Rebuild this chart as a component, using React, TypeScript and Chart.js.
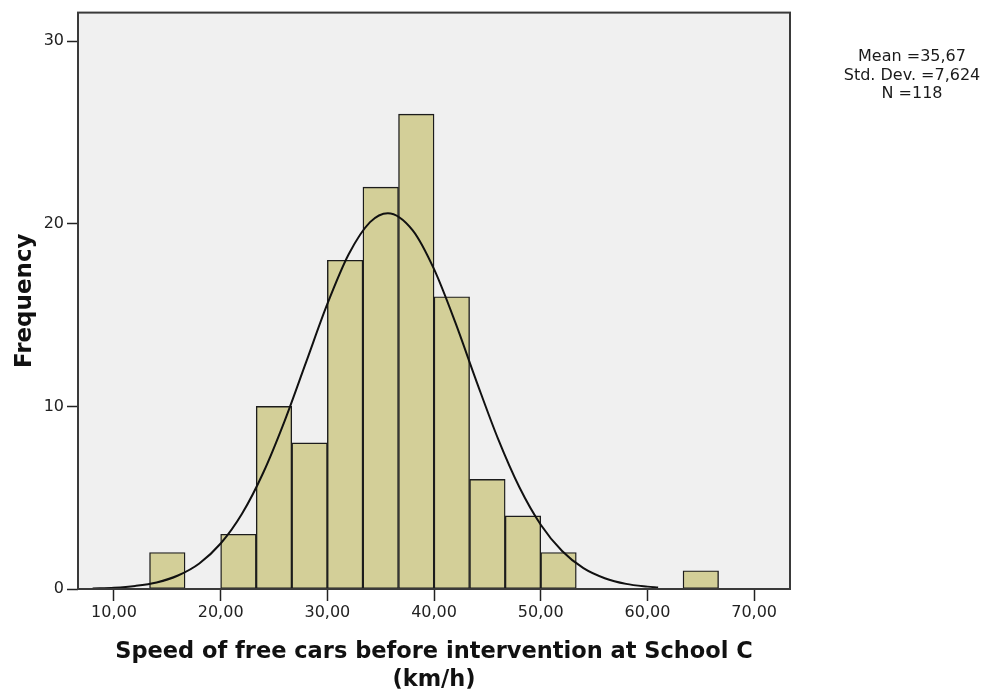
import React, { useEffect, useRef } from "react";
import { Chart, registerables } from "chart.js";

Chart.register(...registerables);

// Histogram bins (lower edge, upper edge) and counts
const binLower = [13.33, 20.0, 23.33, 26.67, 30.0, 33.33, 36.67, 40.0, 43.33, 46.67, 50.0, 63.33];
const binUpper = [16.67, 23.33, 26.67, 30.0, 33.33, 36.67, 40.0, 43.33, 46.67, 50.0, 53.33, 66.67];
const binCounts = [2, 3, 10, 8, 18, 22, 26, 16, 6, 4, 2, 1];

// Normal curve overlay
const curveX = [8, 10, 12, 14, 16, 18, 20, 22, 24, 26, 28, 30, 32, 34, 35.67, 38, 40, 42, 44, 46, 48, 50, 52, 54, 56, 58, 60, 61];
const curveY = [0.03, 0.07, 0.17, 0.36, 0.74, 1.4, 2.49, 4.12, 6.38, 9.21, 12.41, 15.61, 18.33, 20.09, 20.58, 19.64, 17.51, 14.58, 11.33, 8.22, 5.57, 3.52, 2.08, 1.14, 0.59, 0.28, 0.13, 0.08];

const xTicks = [10, 20, 30, 40, 50, 60, 70];
const yTicks = [0, 10, 20, 30];
const statsLines = ["Mean =35,67", "Std. Dev. =7,624", "N =118"];
const xTitle = ["Speed of free cars before intervention at School C", "(km/h)"];
const yTitle = "Frequency";

const FONT = "'DejaVu Sans', sans-serif";

export default function App() {
  const ref = useRef<HTMLCanvasElement | null>(null);

  useEffect(() => {
    document.body.style.margin = "0";
    const canvas = ref.current;
    if (!canvas) return;

    const bgPlugin = {
      id: "plotBg",
      beforeDraw(chart: any) {
        const { ctx, chartArea: a } = chart;
        ctx.save();
        ctx.fillStyle = "#ffffff";
        ctx.fillRect(0, 0, chart.width, chart.height);
        ctx.fillStyle = "#f0f0f0";
        ctx.fillRect(a.left, a.top, a.right - a.left, a.bottom - a.top);
        ctx.restore();
      },
      afterDraw(chart: any) {
        const { ctx, chartArea: a } = chart;
        ctx.save();
        ctx.strokeStyle = "#3a3a3a";
        ctx.lineWidth = 2;
        ctx.strokeRect(a.left, a.top, a.right - a.left, a.bottom - a.top);
        ctx.fillStyle = "#1a1a1a";
        ctx.font = "16px " + FONT;
        ctx.textAlign = "center";
        ctx.textBaseline = "middle";
        statsLines.forEach((t, i) => ctx.fillText(t, 912, 57 + i * 18.5));
        ctx.restore();
      },
    };

    const barData = binCounts.map((c, i) => ({ x: (binLower[i] + binUpper[i]) / 2, y: c }));
    const lineData = curveX.map((x, i) => ({ x, y: curveY[i] }));

    const chart = new Chart(canvas, {
      type: "bar",
      data: {
        datasets: [
          {
            type: "line",
            data: lineData,
            borderColor: "#111111",
            borderWidth: 2,
            pointRadius: 0,
            cubicInterpolationMode: "monotone",
            fill: false,
            order: 0,
          } as any,
          {
            type: "bar",
            data: barData,
            backgroundColor: "#d3cf98",
            borderColor: "#1c1c1c",
            borderWidth: 1.4,
            borderSkipped: false,
            categoryPercentage: 1,
            barPercentage: 1,
            order: 1,
          } as any,
        ],
      },
      options: {
        animation: false,
        responsive: false,
        maintainAspectRatio: false,
        layout: { padding: { top: 12, right: 205, left: 0, bottom: 0 } },
        plugins: { legend: { display: false }, tooltip: { enabled: false } },
        scales: {
          x: {
            type: "linear",
            offset: false,
            min: 6.63,
            max: 73.36,
            afterBuildTicks(scale: any) {
              scale.ticks = xTicks.map((v) => ({ value: v }));
            },
            afterFit(scale: any) {
              scale.height = 106;
            },
            border: { display: false },
            grid: {
              offset: false,
              drawOnChartArea: false,
              drawTicks: true,
              tickLength: 12,
              tickColor: "#222222",
              tickWidth: 1.5,
            },
            ticks: {
              padding: 2,
              color: "#222222",
              font: { family: FONT, size: 16 },
              maxRotation: 0,
              autoSkip: false,
              callback: (v: any) => Number(v).toFixed(2).replace(".", ","),
            },
            title: {
              display: true,
              text: xTitle,
              color: "#111111",
              font: { family: FONT, size: 22.5, weight: "bold", lineHeight: "28px" },
              padding: { top: 0, bottom: 1 },
            },
          },
          y: {
            type: "linear",
            min: 0,
            max: 31.56,
            afterBuildTicks(scale: any) {
              scale.ticks = yTicks.map((v) => ({ value: v }));
            },
            afterFit(scale: any) {
              scale.width = 78;
            },
            border: { display: false },
            grid: {
              drawOnChartArea: false,
              drawTicks: true,
              tickLength: 11,
              tickColor: "#222222",
              tickWidth: 1.5,
            },
            ticks: {
              padding: 3,
              color: "#222222",
              font: { family: FONT, size: 16 },
              autoSkip: false,
            },
            title: {
              display: true,
              text: yTitle,
              color: "#111111",
              font: { family: FONT, size: 23, weight: "bold", lineHeight: "26px" },
              padding: { top: 12, bottom: 0 },
            },
          },
        },
      } as any,
      plugins: [bgPlugin],
    });

    return () => chart.destroy();
  }, []);

  return (
    <div style={{ width: 995, height: 695 }}>
      <canvas ref={ref} width={995} height={695} style={{ display: "block", width: 995, height: 695 }} />
    </div>
  );
}
